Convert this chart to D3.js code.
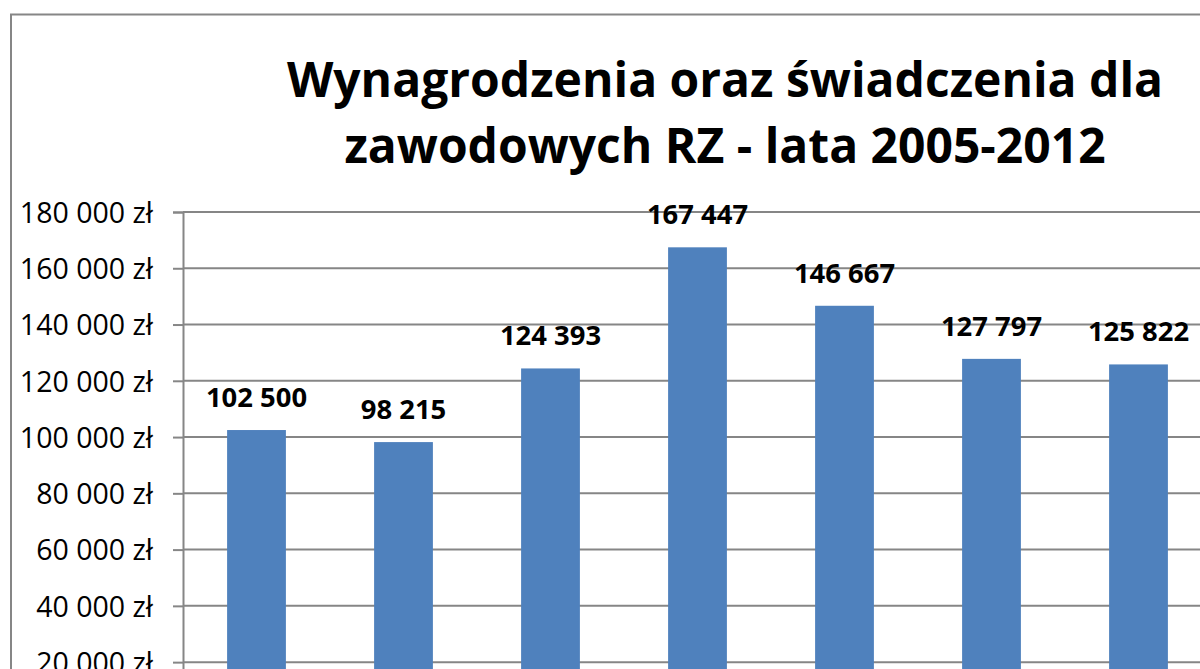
<!DOCTYPE html>
<html><head><meta charset="utf-8">
<script src="https://cdnjs.cloudflare.com/ajax/libs/d3/7.8.5/d3.min.js"></script>
<style>html,body{margin:0;padding:0;background:#fff;overflow:hidden}svg{display:block}</style>
</head><body>
<script>
const categories = ["2005","2006","2007","2008","2009","2010","2011","2012"];
const values = [102500, 98215, 124393, 167447, 146667, 127797, 125822, null];
const yTicks = [0, 20000, 40000, 60000, 80000, 100000, 120000, 140000, 160000, 180000];
const titleLines = ["Wynagrodzenia oraz świadczenia dla", "zawodowych RZ - lata 2005-2012"];

const W = 1200, H = 669;
const svg = d3.select("body").append("svg").attr("width", W).attr("height", H);
const pl = d3.formatLocale({decimal: ",", thousands: " ", grouping: [3], currency: ["", " zł"]});
const fmtNum = pl.format(",d");
const fmtCur = v => pl.format(",d")(v) + " zł";

const gray = "#868686";
// outer chart border (extends beyond the crop)
svg.append("rect").attr("x", 11).attr("y", 14.5).attr("width", 1400).attr("height", 900)
  .attr("fill", "none").attr("stroke", gray).attr("stroke-width", 2);

const y = d3.scaleLinear().domain([0, 180000]).range([718.4, 212]);
const plotLeft = 183;
const x = d3.scaleBand().domain(categories).range([plotLeft, plotLeft + 147 * categories.length])
  .paddingInner(0.6).paddingOuter(0.3);

// gridlines
svg.append("g").selectAll("line").data(yTicks).join("line")
  .attr("x1", plotLeft).attr("x2", plotLeft + 147 * categories.length)
  .attr("y1", d => y(d)).attr("y2", d => y(d))
  .attr("stroke", gray).attr("stroke-width", 2);

// y axis
const yAxis = d3.axisLeft(y).tickValues(yTicks).tickFormat(fmtCur).tickSize(10).tickPadding(20);
const ga = svg.append("g").attr("transform", `translate(${plotLeft},0)`).call(yAxis);
ga.select(".domain").attr("stroke", gray).attr("stroke-width", 2);
ga.selectAll(".tick line").attr("stroke", gray).attr("stroke-width", 2);
ga.selectAll(".tick text").attr("font-family", "'Open Sans'").attr("font-size", 28.5)
  .attr("fill", "#000").attr("dy", "0.36em");

const data = categories.map((c, i) => ({c, v: values[i]})).filter(d => d.v != null);

svg.append("g").selectAll("rect").data(data).join("rect")
  .attr("x", d => x(d.c)).attr("width", x.bandwidth())
  .attr("y", d => y(d.v)).attr("height", d => y(0) - y(d.v))
  .attr("fill", "#4F81BD");

svg.append("g").selectAll("text").data(data).join("text")
  .attr("x", d => x(d.c) + x.bandwidth() / 2).attr("y", d => y(d.v) - 23)
  .attr("text-anchor", "middle").attr("font-family", "'Open Sans'").attr("font-weight", "bold")
  .attr("font-size", 27.4).attr("fill", "#000").text(d => fmtNum(d.v));

svg.append("g").selectAll("text").data(titleLines).join("text")
  .attr("x", 725).attr("y", (d, i) => 97 + i * 66)
  .attr("text-anchor", "middle").attr("font-family", "'Open Sans'").attr("font-weight", "bold")
  .attr("font-size", 48).attr("fill", "#000").text(d => d);
</script>
</body></html>
